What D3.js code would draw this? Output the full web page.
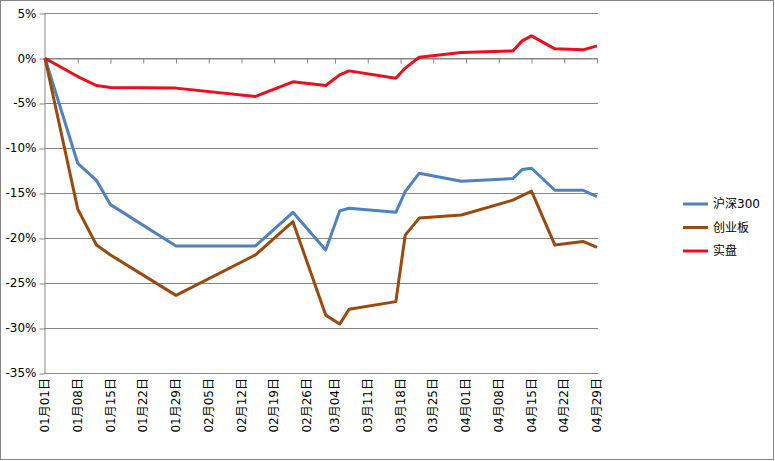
<!DOCTYPE html>
<html>
<head>
<meta charset="utf-8">
<script src="https://cdn.jsdelivr.net/npm/d3@7"></script>
<style>
body { margin: 0; background: #fff; }
text { font-family: "DejaVu Sans", "Noto Sans CJK SC", sans-serif; fill: #000; }
</style>
</head>
<body>
<div id="chart"></div>
<script>
// dates of the data points
const dates = ["2013-01-01", "2013-01-08", "2013-01-12", "2013-01-15", "2013-01-29",
    "2013-02-15", "2013-02-23", "2013-03-02", "2013-03-05", "2013-03-07",
    "2013-03-17", "2013-03-19", "2013-03-22", "2013-03-31", "2013-04-11",
    "2013-04-13", "2013-04-15", "2013-04-20", "2013-04-26", "2013-04-29"];

// values in %
const hs300 = [0, -11.7, -13.6, -16.3, -20.9, -20.9, -17.15, -21.35, -17.0, -16.7,
    -17.15, -14.85, -12.8, -13.7, -13.4, -12.4, -12.25, -14.7, -14.7, -15.4];
const cyb = [0, -16.8, -20.8, -21.9, -26.4, -21.9, -18.2, -28.6, -29.6, -27.95,
    -27.1, -19.7, -17.8, -17.45, -15.8, -15.3, -14.8, -20.8, -20.4, -21.05];
const shipan = [0, -2.04, -3.04, -3.26, -3.33, -4.26, -2.63, -3.04, -1.85, -1.41,
    -2.22, -1.1, 0.1, 0.63, 0.81, 1.93, 2.48, 1.04, 0.93, 1.37];

const seriesNames = ["沪深300", "创业板", "实盘"];
const seriesColors = ["#4f81bd", "#9a4a0e", "#e8101a"];

const tickDates = ["2013-01-01", "2013-01-08", "2013-01-15", "2013-01-22", "2013-01-29",
    "2013-02-05", "2013-02-12", "2013-02-19", "2013-02-26", "2013-03-04",
    "2013-03-11", "2013-03-18", "2013-03-25", "2013-04-01", "2013-04-08",
    "2013-04-15", "2013-04-22", "2013-04-29"];
const tickLabels = ["01月01日", "01月08日", "01月15日", "01月22日", "01月29日",
    "02月05日", "02月12日", "02月19日", "02月26日", "03月04日",
    "03月11日", "03月18日", "03月25日", "04月01日", "04月08日",
    "04月15日", "04月22日", "04月29日"];
const yTicks = [-35, -30, -25, -20, -15, -10, -5, 0, 5];

const width = 775;
const height = 461;
const parse = d3.utcParse("%Y-%m-%d");

const svg = d3.select("#chart").append("svg")
    .attr("width", width)
    .attr("height", height);

// chart border
svg.append("rect")
    .attr("x", 0.5).attr("y", 0.5)
    .attr("width", width - 2).attr("height", height - 2)
    .attr("fill", "none")
    .attr("stroke", "#868686");

const x = d3.scaleUtc()
    .domain([parse(tickDates[0]), parse(tickDates[tickDates.length - 1])])
    .range([45, 597]);
const y = d3.scaleLinear()
    .domain([-35, 5])
    .range([372.6, 13.3]);

// gridlines
svg.append("g")
    .selectAll("line")
    .data(yTicks)
    .enter().append("line")
    .attr("x1", 44).attr("x2", 598)
    .attr("y1", d => Math.round(y(d)) + 0.5)
    .attr("y2", d => Math.round(y(d)) + 0.5)
    .attr("stroke", "#868686")
    .attr("stroke-width", 1);

// y axis
const yAxis = svg.append("g")
    .attr("transform", "translate(44.5,0)")
    .call(d3.axisLeft(y).tickValues(yTicks).tickSize(5).tickSizeOuter(0)
        .tickFormat(d => d + "%"));
yAxis.selectAll("line, path").attr("stroke", "#868686");
yAxis.selectAll("text")
    .attr("font-size", 12)
    .attr("x", -8)
    .style("font-family", "DejaVu Sans");
yAxis.selectAll(".tick line").attr("transform", d => `translate(0,${Math.round(y(d)) + 0.5 - y(d)})`);

// x axis at 0
const xAxis = svg.append("g")
    .attr("transform", `translate(0,${Math.round(y(0)) + 0.5})`)
    .call(d3.axisBottom(x).tickValues(tickDates.map(parse)).tickSize(5).tickSizeOuter(0)
        .tickFormat(""));
xAxis.selectAll("line, path").attr("stroke", "#868686");

// category labels at the bottom
svg.append("g")
    .selectAll("text")
    .data(tickDates)
    .enter().append("text")
    .attr("transform", d => `translate(${x(parse(d))},378) rotate(-90)`)
    .attr("text-anchor", "end")
    .attr("dy", "0.35em")
    .attr("font-size", 12)
    .text((d, i) => tickLabels[i]);

// lines
const allSeries = [hs300, cyb, shipan];
const line = d3.line()
    .x((d, i) => x(parse(dates[i])))
    .y(d => y(d));

svg.append("g")
    .selectAll("path")
    .data(allSeries)
    .enter().append("path")
    .attr("d", d => line(d))
    .attr("fill", "none")
    .attr("stroke", (d, i) => seriesColors[i])
    .attr("stroke-width", 3)
    .attr("stroke-linejoin", "round");

// legend
const legend = svg.append("g")
    .selectAll("g")
    .data(seriesNames)
    .enter().append("g")
    .attr("transform", (d, i) => `translate(683,${204 + i * 23.5})`);
legend.append("line")
    .attr("x1", 0).attr("x2", 25)
    .attr("stroke", (d, i) => seriesColors[i])
    .attr("stroke-width", 3);
legend.append("text")
    .attr("x", 30)
    .attr("dy", "0.35em")
    .attr("font-size", 12)
    .text(d => d);
</script>
</body>
</html>
